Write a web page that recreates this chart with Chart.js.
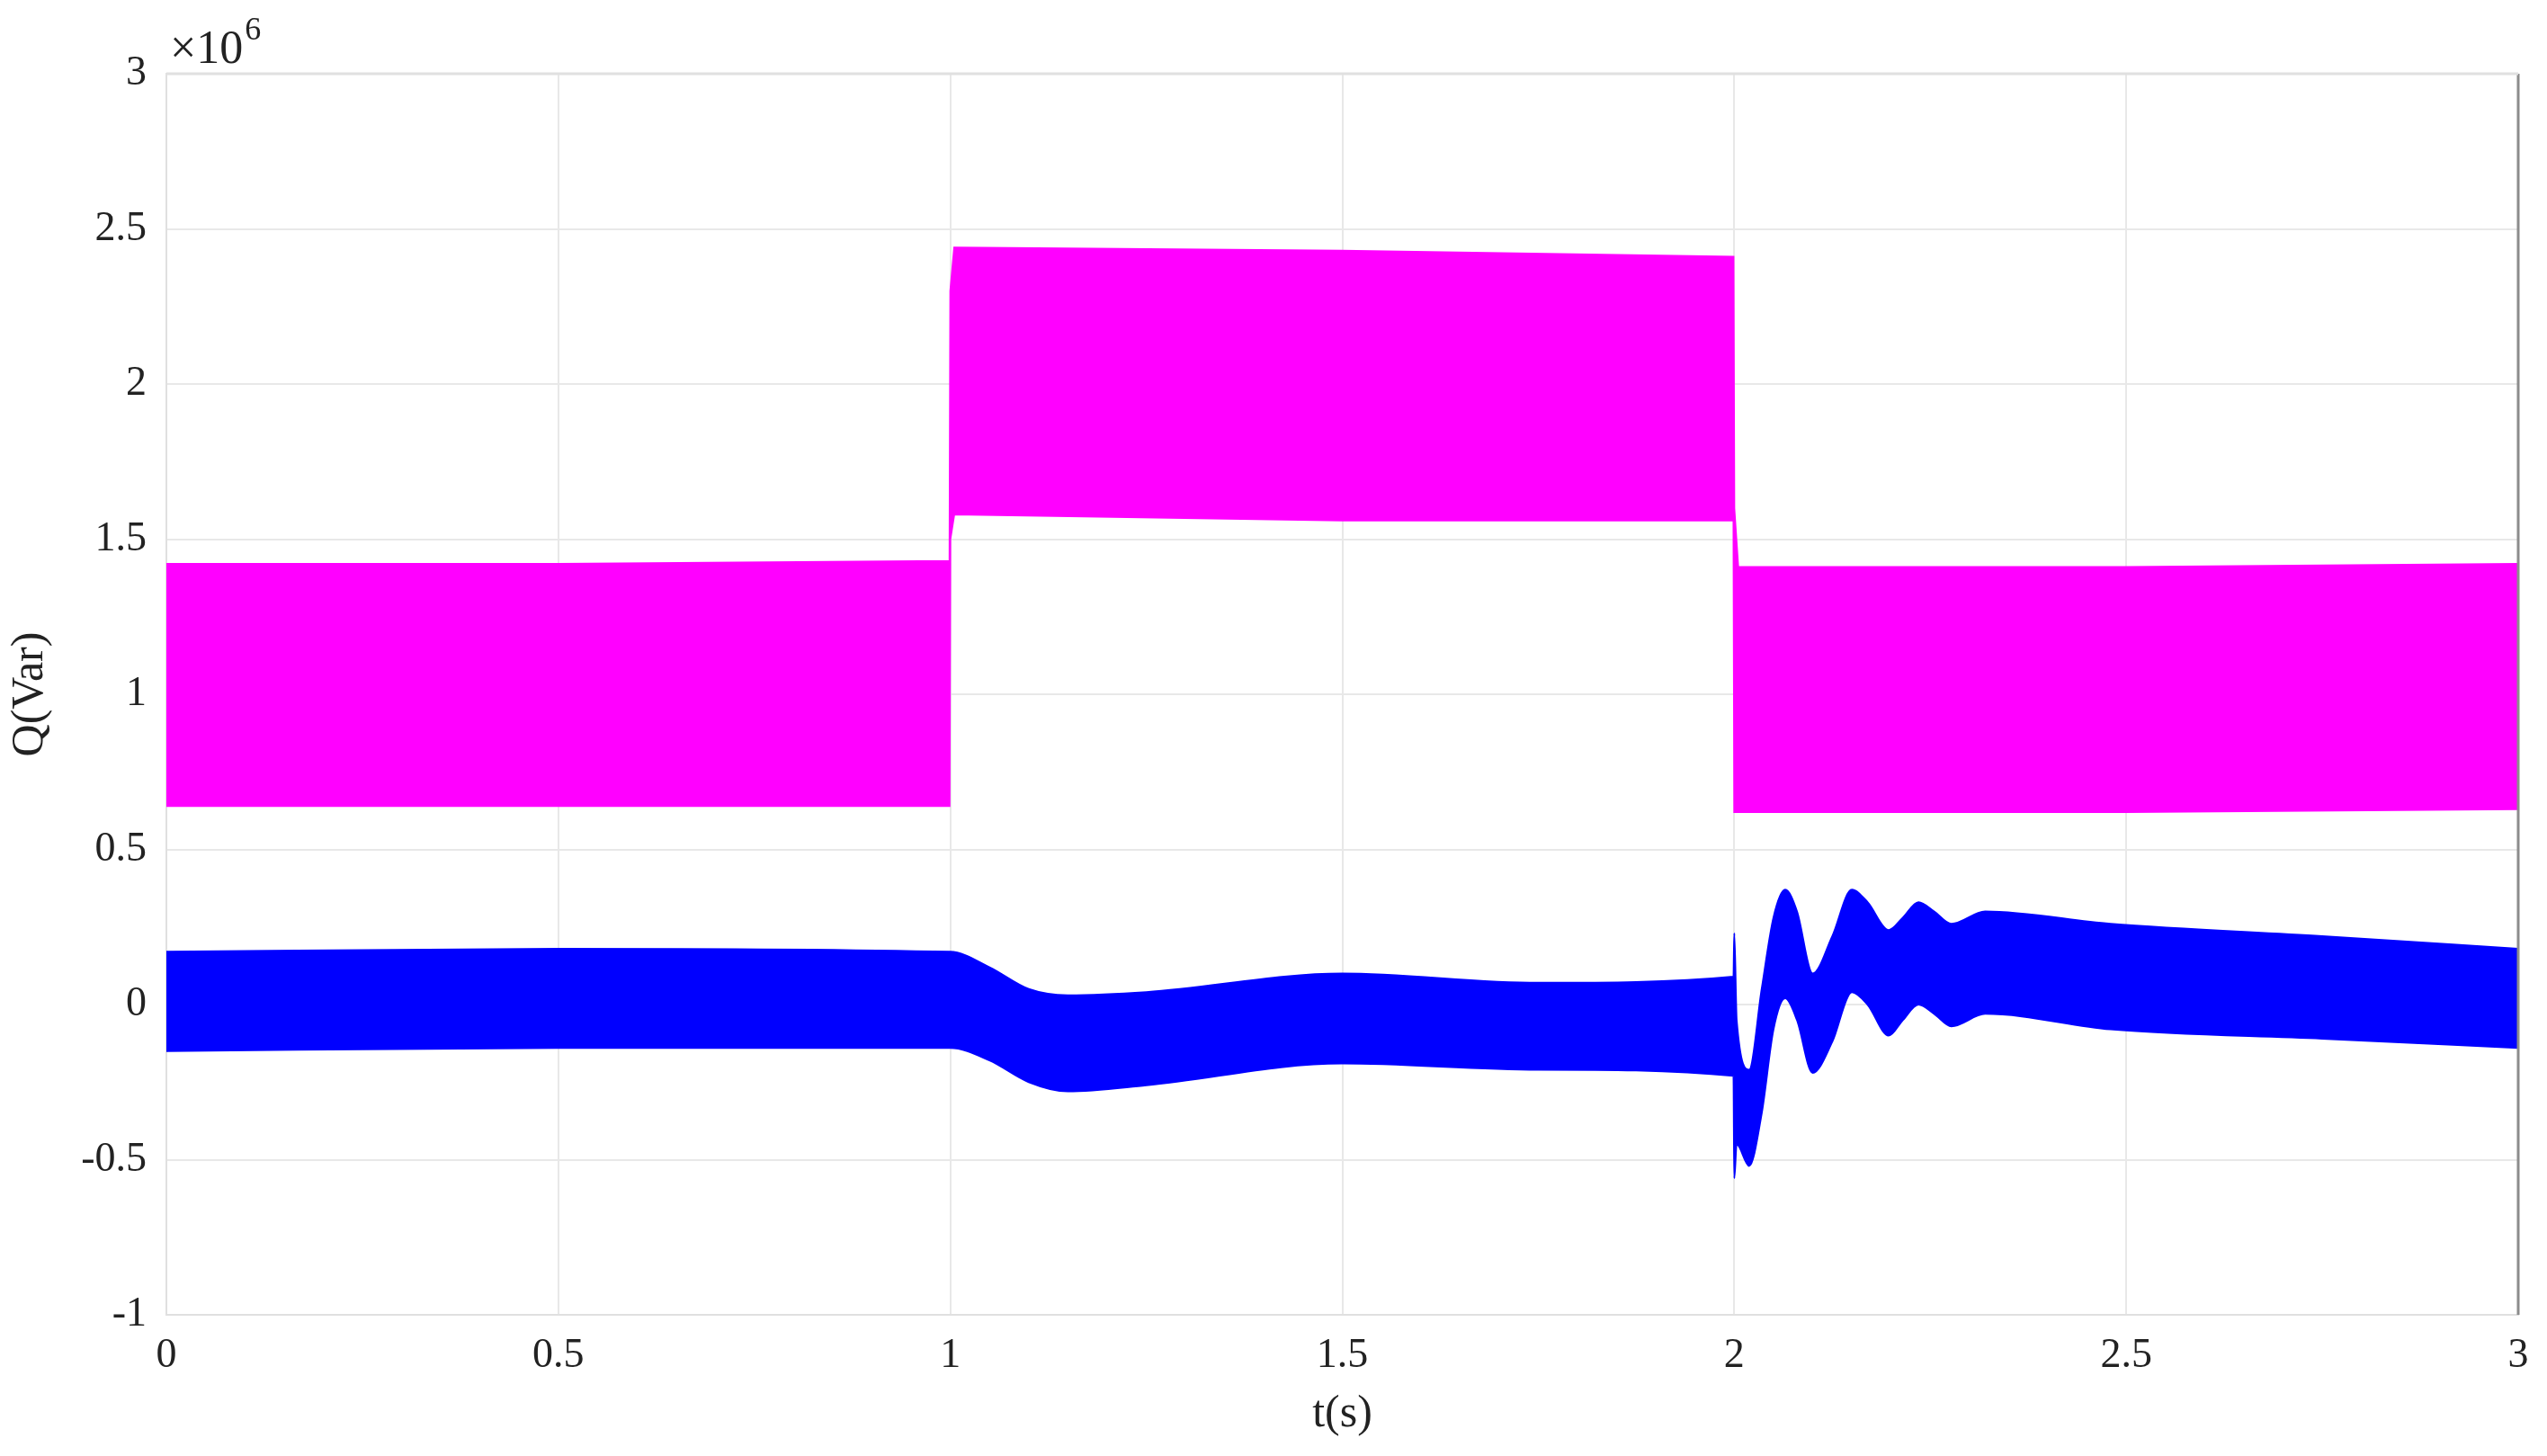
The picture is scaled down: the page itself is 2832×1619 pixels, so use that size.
<!DOCTYPE html>
<html>
<head>
<meta charset="utf-8">
<script src="https://cdn.jsdelivr.net/npm/chart.js@4/dist/chart.umd.min.js"></script>
<style>
  html, body { margin: 0; padding: 0; background: #fff; }
  #wrap { width: 2832px; height: 1619px; }
</style>
</head>
<body>
<div id="wrap"><canvas id="chart"></canvas></div>
<script>
// === DATA (envelopes of the oscillating signals, units of 1e6 Var)
const magentaT     = [0, 0.5, 0.999, 1.0, 1.005, 1.5, 1.999, 2.0, 2.005, 2.5, 3.0];
const magentaUpper = [1.42, 1.42, 1.43, 2.30, 2.44, 2.43, 2.41, 1.60, 1.41, 1.41, 1.42];
const magentaLower = [0.64, 0.64, 0.64, 1.50, 1.58, 1.56, 1.56, 0.62, 0.62, 0.62, 0.63];

const blueT     = [0, 0.5, 1.0, 1.05, 1.1, 1.15, 1.25, 1.5, 1.75, 1.999, 2.0, 2.003, 2.019, 2.035, 2.05, 2.065, 2.08, 2.10, 2.125, 2.15, 2.17, 2.197, 2.215, 2.235, 2.255, 2.277, 2.32, 2.48, 2.75, 3.0];
const blueUpper = [0.17, 0.18, 0.17, 0.12, 0.05, 0.03, 0.04, 0.10, 0.07, 0.09, 0.23, -0.05, -0.21, 0.05, 0.28, 0.37, 0.30, 0.10, 0.22, 0.37, 0.33, 0.24, 0.28, 0.33, 0.30, 0.26, 0.30, 0.26, 0.22, 0.18];
const blueLower = [-0.15, -0.14, -0.14, -0.18, -0.25, -0.28, -0.26, -0.19, -0.21, -0.23, -0.56, -0.45, -0.52, -0.35, -0.08, 0.02, -0.05, -0.22, -0.12, 0.04, 0.00, -0.10, -0.05, 0.00, -0.03, -0.07, -0.03, -0.08, -0.11, -0.14];

const xTicks = [0, 0.5, 1, 1.5, 2, 2.5, 3];
const yTicks = [-1, -0.5, 0, 0.5, 1, 1.5, 2, 2.5, 3];

const pts = (t, v) => t.map((x, i) => ({ x, y: v[i] }));
const FONT = 'Liberation Serif';

// ====== frame + exponent label
const framePlugin = {
  id: 'frame',
  afterDraw(chart) {
    const { ctx, chartArea: a } = chart;
    ctx.save();
    ctx.strokeStyle = '#8c8c8c';
    ctx.lineWidth = 3;
    ctx.beginPath();
    ctx.moveTo(a.right, a.top); ctx.lineTo(a.right, a.bottom);
    ctx.stroke();
    ctx.strokeStyle = '#e0e0e0';
    ctx.beginPath();
    ctx.moveTo(a.left, a.top); ctx.lineTo(a.right, a.top);
    ctx.stroke();
    ctx.fillStyle = '#222';
    ctx.font = `52px "${FONT}"`;
    ctx.textBaseline = 'alphabetic';
    const base = '\u00d710';
    ctx.fillText(base, a.left + 4, a.top - 12);
    const w = ctx.measureText(base).width;
    ctx.font = `36px "${FONT}"`;
    ctx.fillText('6', a.left + 6 + w, a.top - 38);
    ctx.restore();
  }
};

function band(label, color, t, lo, hi, smooth) {
  const common = { borderColor: color, backgroundColor: color, borderWidth: 2, pointRadius: 0 };
  if (smooth) common.cubicInterpolationMode = 'monotone';
  else common.tension = 0;
  return [
    { ...common, label: label + ' lo', data: pts(t, lo), fill: false },
    { ...common, label: label + ' hi', data: pts(t, hi), fill: '-1' }
  ];
}

window.addEventListener('DOMContentLoaded', () => {
  new Chart(document.getElementById('chart'), {
    type: 'line',
    data: {
      datasets: [
        ...band('Q1', '#ff00ff', magentaT, magentaLower, magentaUpper, false),
        ...band('Q2', '#0000ff', blueT, blueLower, blueUpper, true)
      ]
    },
    options: {
      responsive: true,
      maintainAspectRatio: false,
      animation: false,
      layout: { padding: { top: 82, right: 32, left: 0, bottom: 0 } },
      plugins: { legend: { display: false }, tooltip: { enabled: false } },
      scales: {
        x: {
          type: 'linear', min: 0, max: 3,
          afterBuildTicks: s => { s.ticks = xTicks.map(v => ({ value: v })); },
          afterFit: s => { s.height = 157; },
          grid: { color: '#e8e8e8', lineWidth: 2, drawTicks: false },
          border: { color: '#e0e0e0', width: 2 },
          ticks: { color: '#222', font: { family: FONT, size: 46 }, padding: 18, maxRotation: 0, callback: v => String(v) },
          title: { display: true, text: 't(s)', color: '#222', font: { family: FONT, size: 50 }, padding: { top: 0, bottom: 16 } }
        },
        y: {
          type: 'linear', min: -1, max: 3,
          afterBuildTicks: s => { s.ticks = yTicks.map(v => ({ value: v })); },
          afterFit: s => { s.width = 185; },
          grid: { color: '#e8e8e8', lineWidth: 2, drawTicks: false },
          border: { color: '#e0e0e0', width: 2 },
          ticks: { color: '#222', font: { family: FONT, size: 46 }, padding: 22, callback: v => String(v) },
          title: { display: true, text: 'Q(Var)', color: '#222', font: { family: FONT, size: 50 }, padding: { bottom: 4 } }
        }
      }
    },
    plugins: [framePlugin]
  });
});
</script>
</body>
</html>
